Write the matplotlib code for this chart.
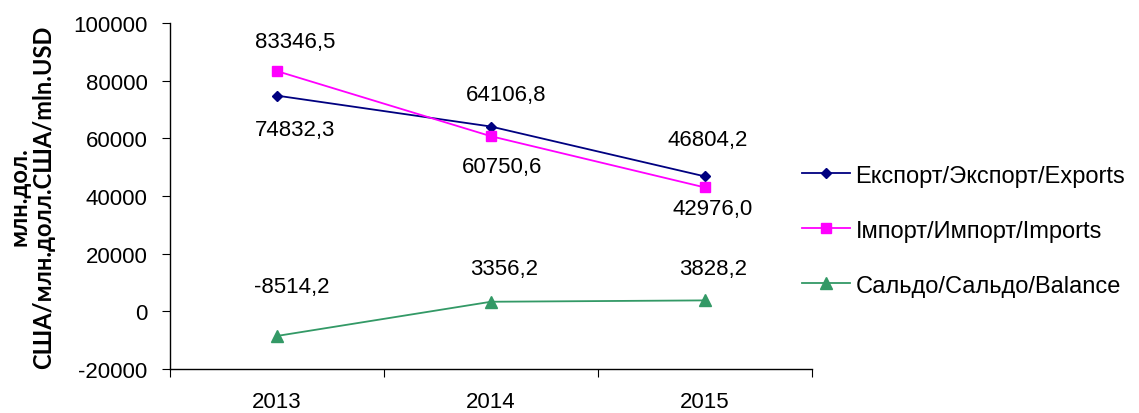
import matplotlib
matplotlib.use("Agg")
import matplotlib.pyplot as plt

years = ["2013", "2014", "2015"]
exports = [74832.3, 64106.8, 46804.2]
imports = [83346.5, 60750.6, 42976.0]
balance = [-8514.2, 3356.2, 3828.2]
series_names = ["Експорт/Экспорт/Exports", "Імпорт/Импорт/Imports", "Сальдо/Сальдо/Balance"]
ylabel = "млн.дол.\nСША/млн.долл.США/mln.USD"

plt.rcParams['font.family'] = ['Liberation Sans', 'DejaVu Sans']
plt.rcParams['axes.unicode_minus'] = False

fig = plt.figure(figsize=(11.39, 4.14), dpi=100)
ax = fig.add_axes([0.149, 0.106, 0.564, 0.836])
x = list(range(len(years)))

ax.plot(x, exports, color="#000080", marker="D", markersize=5, lw=1.3, label=series_names[0])
ax.plot(x, imports, color="#FF00FF", marker="s", markersize=7, lw=1.3, label=series_names[1])
ax.plot(x, balance, color="#339966", marker="^", markersize=8, lw=1.3, label=series_names[2])

def fmt(v):
    return f"{v:.1f}".replace(".", ",")

fs = 16
# label offsets in pixels (dx right, dy up) relative to the marker
offs_exp = [(18, -34), (15, 32), (3, 37)]
offs_imp = [(18, 30), (11, -30), (8, -21)]
offs_bal = [(15, 49), (13, 33), (8, 32)]
for series, offs in ((exports, offs_exp), (imports, offs_imp), (balance, offs_bal)):
    for i, v in enumerate(series):
        dx, dy = offs[i]
        ax.annotate(fmt(v), (i, v), xytext=(dx * 0.72, dy * 0.72),
                    textcoords="offset points", ha="center", va="center", fontsize=fs)

ax.set_xlim(-0.5, 2.5)
ax.set_ylim(-20000, 100000)
ax.set_yticks(range(-20000, 100001, 20000))
ax.set_xticks([-0.5, 0.5, 1.5, 2.5])
ax.set_xticklabels([])
ax.set_xticks(x, minor=True)
ax.set_xticklabels(years, minor=True, fontsize=fs)
ax.tick_params(axis="x", which="minor", length=0, pad=16)
ax.tick_params(axis="x", which="major", length=6, direction="out")
ax.tick_params(axis="y", which="major", labelsize=fs, direction="out", length=6, pad=10)
for s in ("top", "right"):
    ax.spines[s].set_visible(False)
for s in ("left", "bottom"):
    ax.spines[s].set_linewidth(1.0)

ax.set_ylabel(ylabel, fontsize=17, fontweight="bold", family=["Lato", "DejaVu Sans"],
              linespacing=1.1, labelpad=13)

leg = ax.legend(loc="center left", bbox_to_anchor=(0.985, 0.40), frameon=False, fontsize=17,
                labelspacing=1.4, handlelength=2.0, handletextpad=0.25, borderaxespad=0.0,
                borderpad=0.0)

fig.savefig("out.png", dpi=100)
